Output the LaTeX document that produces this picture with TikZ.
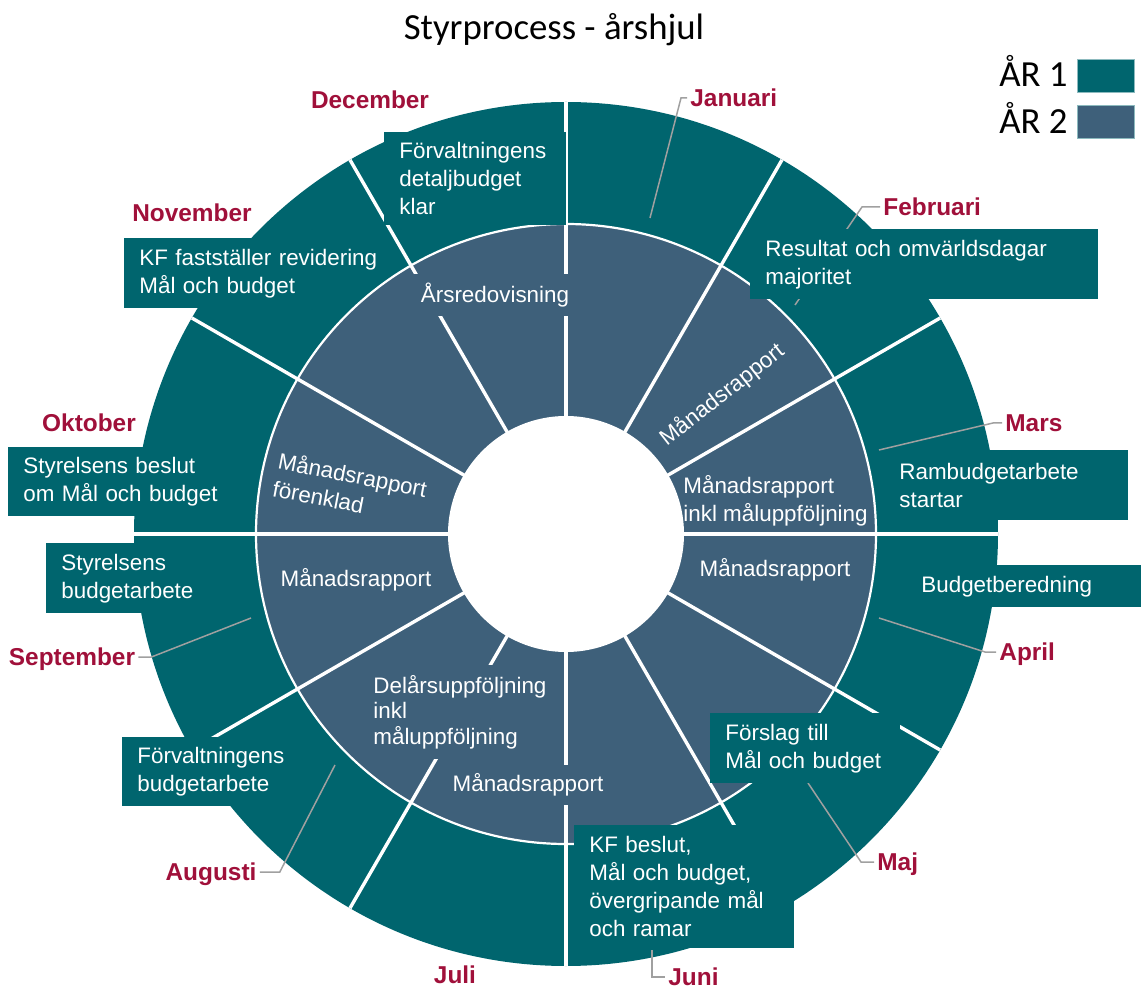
\documentclass[tikz,border=0pt]{standalone}
\usepackage{fontspec}
\usepackage{tikz}
\newfontfamily\arialfont{Liberation Sans}
\newfontfamily\calfont{Carlito}
\definecolor{arett}{RGB}{0,101,110}
\definecolor{artva}{RGB}{62,96,122}
\definecolor{manadrod}{RGB}{160,16,58}
\definecolor{ledgra}{RGB}{160,160,160}

\begin{document}
\begin{tikzpicture}[x=0.5pt,y=-0.5pt,
    spoke/.style={white,line width=1.7pt},
    ringline/.style={white,line width=1.1pt},
    inlbl/.style={text=white,font=\arialfont\fontsize{11.2}{14}\selectfont,align=left,inner sep=0pt},
    gaplbl/.style={inlbl,fill=artva,inner xsep=5pt,inner ysep=4.5pt},
    box/.style={fill=arett,text=white,font=\arialfont\fontsize{11.2}{14}\selectfont,align=left,anchor=north west,inner xsep=7.5pt,inner ysep=0pt},
    manad/.style={text=manadrod,font=\arialfont\bfseries\fontsize{12.2}{14}\selectfont,inner sep=0pt,text height=8.7pt,text depth=0pt},
    leader/.style={ledgra,line width=0.75pt},
    legsq/.style={minimum width=28.5pt,minimum height=16.5pt,inner sep=0pt,draw=white!55!arett,line width=0.4pt},
    legtxt/.style={font=\calfont\fontsize{18.4}{22}\selectfont,inner sep=0pt}]
\useasboundingbox (0,0) rectangle (1141,989);

% wheel
\coordinate (c) at (566,534);
\fill[arett] (c) circle (216pt);
\fill[artva] (c) circle (155pt);
\foreach \a in {0,30,...,330}
  \draw[spoke] (c) -- ++(\a:216pt);
\fill[white] (c) circle (59pt);
\draw[ringline] (c) circle (155pt);

% inner ring, year 2
\node[gaplbl] (arsred) at (495,295) {Årsredovisning};
\node[inlbl,rotate=38] (manfeb) at (722,395) {Månadsrapport};
\node[inlbl,anchor=west] (manmar) at (683,501) {Månadsrapport\\inkl måluppföljning};
\node[inlbl] (manapr) at (775,570) {Månadsrapport};
\node[gaplbl,anchor=west,font=\arialfont\fontsize{11.2}{12.8}\selectfont,inner ysep=5pt] (delar) at (363,712) {Delårsuppföljning\\inkl\\måluppföljning};
\node[gaplbl] (manbot) at (528,785) {Månadsrapport};
\node[inlbl] (mansep) at (356,580) {Månadsrapport};
\node[inlbl,rotate=-11] (manokt) at (350,488) {Månadsrapport\\förenklad};

% leaders
\coordinate (ljan) at (650,218);
\coordinate (lfeb) at (795,305);
\coordinate (lmar) at (879,450);
\coordinate (lapr) at (879,618);
\coordinate (lmaj) at (808,783);
\coordinate (ljun) at (652,950);
\coordinate (laug) at (335,765);
\coordinate (lsep) at (251,618);

% months
\node[manad] (dec) at (370,100) {December};
\node[manad] (nov) at (192,213) {November};
\node[manad] (okt) at (89,423) {Oktober};
\node[manad] (sep) at (72,657) {September};
\node[manad] (aug) at (211,872) {Augusti};
\node[manad] (jul) at (455,975) {Juli};
\node[manad,anchor=west] (jun) at (668,977) {Juni};
\node[manad,anchor=west] (maj) at (877,862) {Maj};
\node[manad,anchor=west] (apr) at (999,652) {April};
\node[manad,anchor=west] (mar) at (1005,423) {Mars};
\node[manad,anchor=west] (feb) at (883,207) {Februari};
\node[manad,anchor=west] (jan) at (690,98) {Januari};

\draw[leader] (ljan) -- ([xshift=-4.5pt]jan.west) -- ([xshift=-1.5pt]jan.west);
\draw[leader] (lfeb) -- ([xshift=-10.5pt]feb.west) -- ([xshift=-1.5pt]feb.west);
\draw[leader] (lmar) -- ([xshift=-6pt]mar.west) -- ([xshift=-1.5pt]mar.west);
\draw[leader] (lapr) -- ([xshift=-7pt]apr.west) -- ([xshift=-1.5pt]apr.west);
\draw[leader] (lmaj) -- ([xshift=-8pt]maj.west) -- ([xshift=-1.5pt]maj.west);
\draw[leader] (ljun) -- ([xshift=-8pt]jun.west) -- ([xshift=-1.5pt]jun.west);
\draw[leader] (laug) -- ([xshift=11.5pt]aug.east) -- ([xshift=1.5pt]aug.east);
\draw[leader] (lsep) -- ([xshift=8pt]sep.east) -- ([xshift=1.5pt]sep.east);

% outer ring, year 1
\node[box,text width=76pt,minimum height=46.5pt] (detalj) at (384,132) {Förvaltningens\\detaljbudget\\klar};
\node[box,text width=98pt,minimum height=35pt] (kfrev) at (124,238) {\rlap{KF fastställer revidering}\\Mål och budget};
\node[box,text width=106pt,minimum height=34.5pt] (sbeslut) at (8,447) {Styrelsens beslut\\om Mål och budget};
\node[box,text width=87pt,minimum height=35pt] (sbudget) at (46,543) {Styrelsens\\budgetarbete};
\node[box,text width=76pt,minimum height=34.5pt] (fbudget) at (122,737) {Förvaltningens\\budgetarbete};
\node[box,text width=95pt,minimum height=61.5pt] (kfbeslut) at (574,825) {KF beslut,\\Mål och budget,\\övergripande mål\\och ramar};
\node[box,text width=80pt,minimum height=35pt] (forslag) at (710,713) {Förslag till\\Mål och budget};
\node[box,text width=110pt,minimum height=21pt] (budgetb) at (906,565) {Budgetberedning};
\node[box,text width=107pt,minimum height=35pt] (ramb) at (884,450) {Rambudgetarbete\\startar};
\node[box,text width=159pt,minimum height=35pt] (result) at (750,229) {Resultat och omvärldsdagar\\majoritet};

% title and legend
\node[legtxt,anchor=base] (titel) at (554,40) {Styrprocess - årshjul};
\node[legtxt,anchor=base east] (ar1lbl) at (1068,87) {ÅR 1};
\node[legtxt,anchor=base east] (ar2lbl) at (1068,134) {ÅR 2};
\node[legsq,fill=arett] (ar1sq) at (1106,76) {};
\node[legsq,fill=artva] (ar2sq) at (1106,122) {};
\end{tikzpicture}
\end{document}
